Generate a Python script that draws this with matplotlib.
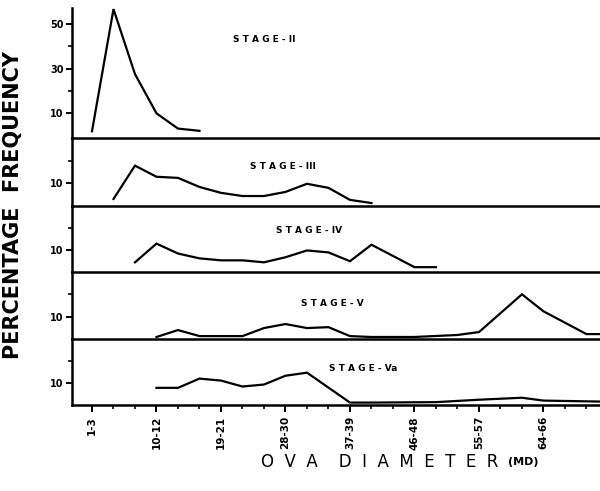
import numpy as np
import matplotlib
matplotlib.use("Agg")
import matplotlib.pyplot as plt

# ova diameter classes (micrometer divisions), one class = 3 MD
class_labels = ["1-3", "10-12", "19-21", "28-30", "37-39", "46-48", "55-57", "64-66"]
label_idx = [0, 3, 6, 9, 12, 15, 18, 21]

# percentage frequency per stage (x = class index)
stage2_x = [0, 1, 2, 3, 4, 5]
stage2_y = [2, 56.5, 27.5, 10, 3.2, 2.2]

stage3_x = [1, 2, 3, 4, 5, 6, 7, 8, 9, 10, 11, 12, 13]
stage3_y = [3.1, 17.8, 12.9, 12.4, 8.4, 5.8, 4.4, 4.4, 6.2, 9.8, 8.0, 2.7, 1.3]

stage4_x = [2, 3, 4, 5, 6, 7, 8, 9, 10, 11, 12, 13, 15, 16]
stage4_y = [4.4, 12.9, 8.4, 6.2, 5.3, 5.3, 4.4, 6.7, 9.8, 8.9, 4.9, 12.4, 2.2, 2.2]

stage5_x = [3, 4, 5, 6, 7, 8, 9, 10, 11, 12, 13, 14, 15, 17, 18, 20, 21, 23, 24]
stage5_y = [0.9, 4.0, 1.3, 1.3, 1.3, 4.9, 6.7, 4.9, 5.3, 1.3, 0.9, 0.9, 0.9, 1.8, 3.1, 20.0, 12.4, 2.2, 2.2]

stage5a_x = [3, 4, 5, 6, 7, 8, 9, 10, 12, 13, 16, 18, 20, 21, 24]
stage5a_y = [7.8, 7.8, 12.0, 11.1, 8.4, 9.3, 13.3, 14.7, 1.1, 1.1, 1.3, 2.4, 3.3, 2.0, 1.5]

panels = [
    (stage2_x, stage2_y, "S T A G E - II", (8.0, 43)),
    (stage3_x, stage3_y, "S T A G E - III", (8.9, 17.3)),
    (stage4_x, stage4_y, "S T A G E - IV", (10.1, 19)),
    (stage5_x, stage5_y, "S T A G E - V", (11.2, 16)),
    (stage5a_x, stage5a_y, "S T A G E - Va", (12.6, 16.4)),
]

H = 491.0
# panel edges in pixels from the top
edges = [8, 138, 206, 272, 339, 405]

fig = plt.figure(figsize=(6.0, 4.91), dpi=100)
left = 72 / 600.0
axes = []
for i, (xs, ys, name, pos) in enumerate(panels):
    top, bot = edges[i], edges[i + 1]
    ax = fig.add_axes([left, 1 - bot / H, 1 - left, (bot - top) / H])
    ax.plot(xs, ys, color="black", lw=1.6, solid_joinstyle="miter", clip_on=False)
    ax.set_xlim(-0.93, 23.63)
    if i == 0:
        ax.set_ylim(-1, 57)
        ax.set_yticks([10, 30, 50])
        ax.set_yticks([20, 40], minor=True)
    else:
        ax.set_ylim(0, 30)
        ax.set_yticks([10])
        ax.set_yticks([20], minor=True)
    for s in ["top", "right"]:
        ax.spines[s].set_visible(False)
    ax.spines["left"].set_linewidth(1.8)
    ax.spines["bottom"].set_linewidth(1.8)
    ax.tick_params(axis="y", direction="out", length=4, width=1.4, labelsize=7, pad=2)
    ax.tick_params(axis="y", which="minor", direction="out", length=3, width=1.2)
    for t in ax.get_yticklabels():
        t.set_fontweight("bold")
    ax.text(pos[0], pos[1], name, fontsize=6.5, fontweight="bold", ha="center", va="center")
    if i < len(panels) - 1:
        ax.set_xticks([])
    else:
        ax.set_xticks(label_idx)
        ax.set_xticklabels(class_labels, rotation=90, fontsize=7.5, fontweight="bold")
        ax.set_xticks(np.arange(0, 24), minor=True)
        ax.tick_params(axis="x", direction="out", length=5, width=1.4, pad=3)
        ax.tick_params(axis="x", which="minor", direction="out", length=3, width=1.2)
    ax.patch.set_alpha(0)
    axes.append(ax)

fig.text(0.022, 1 - 205 / H, "PERCENTAGE  FREQUENCY", rotation=90, fontsize=15,
         fontweight="bold", ha="center", va="center")
fig.text(380 / 600.0, 1 - 462 / H, "O  V  A    D  I  A  M  E  T  E  R", fontsize=12,
         ha="center", va="center")
fig.text(523 / 600.0, 1 - 462 / H, "(MD)", fontsize=8, fontweight="bold",
         ha="center", va="center")

fig.savefig("out.png", dpi=100)
